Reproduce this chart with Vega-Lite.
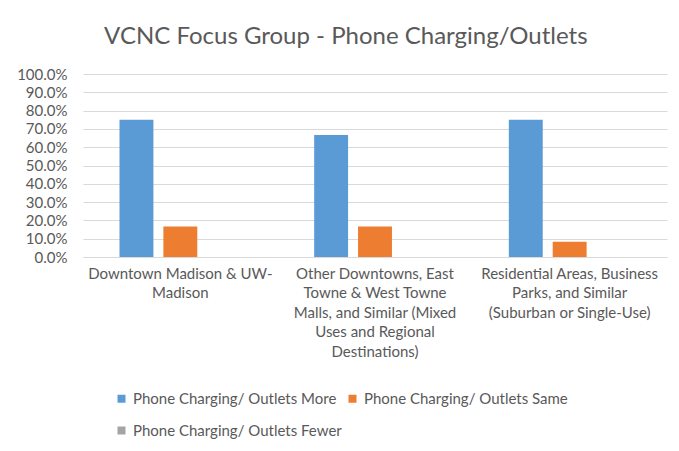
{
  "$schema": "https://vega.github.io/schema/vega-lite/v6.json",
  "width": 584,
  "height": 183,
  "autosize": {"type": "none"},
  "padding": {"left": 83, "top": 74, "right": 12, "bottom": 194},
  "background": "white",
  "title": {
    "text": "VCNC Focus Group - Phone Charging/Outlets",
    "anchor": "middle",
    "frame": "bounds",
    "fontSize": 24,
    "font": "Lato",
    "fontWeight": "normal",
    "color": "#595959",
    "offset": 18,
    "dx": 4
  },
  "data": {
    "values": [
      {"area": "Downtown Madison & UW-|Madison", "series": "Phone Charging/ Outlets More", "value": 0.75},
      {"area": "Downtown Madison & UW-|Madison", "series": "Phone Charging/ Outlets Same", "value": 0.1667},
      {"area": "Downtown Madison & UW-|Madison", "series": "Phone Charging/ Outlets Fewer", "value": 0},
      {"area": "Other Downtowns, East|Towne & West Towne|Malls, and Similar (Mixed|Uses and Regional|Destinations)", "series": "Phone Charging/ Outlets More", "value": 0.6667},
      {"area": "Other Downtowns, East|Towne & West Towne|Malls, and Similar (Mixed|Uses and Regional|Destinations)", "series": "Phone Charging/ Outlets Same", "value": 0.1667},
      {"area": "Other Downtowns, East|Towne & West Towne|Malls, and Similar (Mixed|Uses and Regional|Destinations)", "series": "Phone Charging/ Outlets Fewer", "value": 0},
      {"area": "Residential Areas, Business|Parks, and Similar|(Suburban or Single-Use)", "series": "Phone Charging/ Outlets More", "value": 0.75},
      {"area": "Residential Areas, Business|Parks, and Similar|(Suburban or Single-Use)", "series": "Phone Charging/ Outlets Same", "value": 0.0833},
      {"area": "Residential Areas, Business|Parks, and Similar|(Suburban or Single-Use)", "series": "Phone Charging/ Outlets Fewer", "value": 0}
    ]
  },
  "mark": {"type": "bar", "strokeWidth": 0},
  "encoding": {
    "x": {
      "field": "area",
      "type": "nominal",
      "sort": null,
      "scale": {"paddingInner": 0.375, "paddingOuter": 0.1875},
      "axis": {
        "title": null,
        "labelAngle": 0,
        "labelExpr": "split(datum.label, '|')",
        "labelFont": "Lato",
        "labelFontSize": 15,
        "labelColor": "#595959",
        "labelLineHeight": 19.5,
        "labelPadding": 9,
        "labelLimit": 300,
        "labelOverlap": false,
        "ticks": false,
        "domainColor": "#D9D9D9",
        "domainWidth": 1.2
      }
    },
    "xOffset": {
      "field": "series",
      "type": "nominal",
      "sort": ["Phone Charging/ Outlets More", "Phone Charging/ Outlets Same", "Phone Charging/ Outlets Fewer"],
      "scale": {"paddingInner": 0.227, "paddingOuter": 0}
    },
    "y": {
      "field": "value",
      "type": "quantitative",
      "scale": {"domain": [0, 1]},
      "axis": {
        "title": null,
        "format": ".1%",
        "values": [0, 0.1, 0.2, 0.3, 0.4, 0.5, 0.6, 0.7, 0.8, 0.9, 1],
        "labelOverlap": false,
        "labelFont": "Lato",
        "labelFontSize": 15,
        "labelColor": "#595959",
        "labelPadding": 16,
        "ticks": false,
        "domain": false,
        "gridColor": "#D9D9D9",
        "gridWidth": 1.2
      }
    },
    "color": {
      "field": "series",
      "type": "nominal",
      "sort": ["Phone Charging/ Outlets More", "Phone Charging/ Outlets Same", "Phone Charging/ Outlets Fewer"],
      "scale": {"range": ["#5B9BD5", "#ED7D31", "#A5A5A5"]},
      "legend": {
        "title": null,
        "orient": "none",
        "legendX": 31,
        "legendY": 317,
        "direction": "horizontal",
        "columns": 2,
        "columnPadding": 3,
        "rowPadding": 16,
        "symbolType": "square",
        "symbolSize": 64,
        "symbolStrokeWidth": 0,
        "symbolOffset": 0,
        "labelOffset": 4,
        "labelFont": "Lato",
        "labelFontSize": 15,
        "labelColor": "#595959",
        "labelLimit": 300
      }
    }
  },
  "config": {"view": {"stroke": null}}
}
